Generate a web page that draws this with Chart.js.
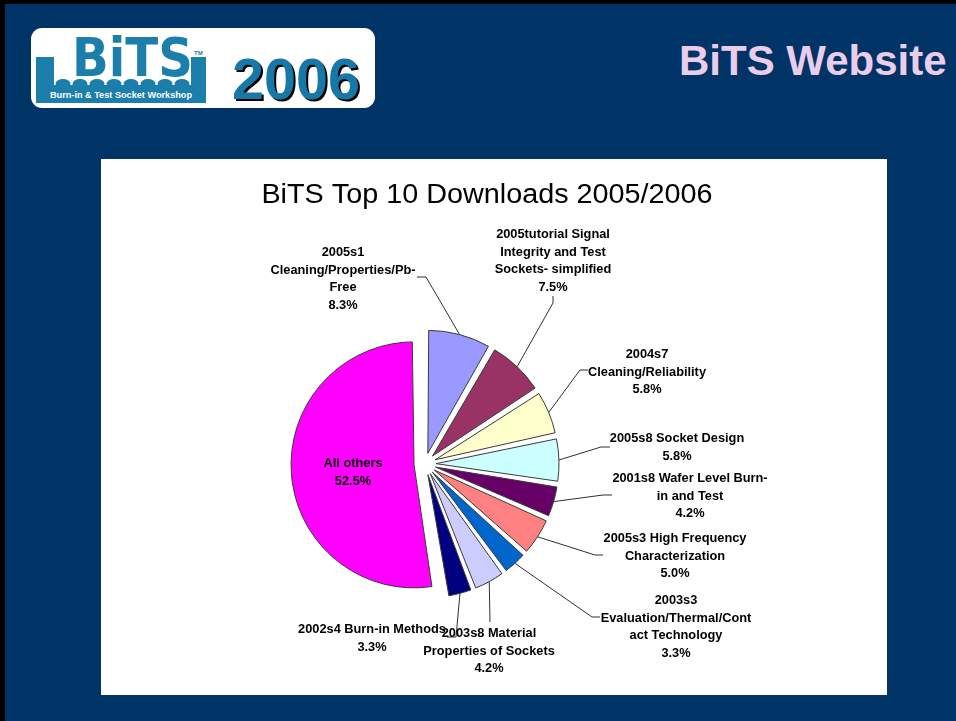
<!DOCTYPE html>
<html>
<head>
<meta charset="utf-8">
<script src="https://cdn.jsdelivr.net/npm/chart.js@4/dist/chart.umd.min.js"></script>
<style>
html,body{margin:0;padding:0;}
body{width:956px;height:721px;background:#003366;position:relative;overflow:hidden;font-family:"Liberation Sans",Arial,sans-serif;}
#topbar{position:absolute;left:0;top:0;width:956px;height:4px;background:#000;}
#leftbar{position:absolute;left:0;top:0;width:5px;height:721px;background:#000;}
#head{position:absolute;left:0;top:0;}
#box{position:absolute;left:101px;top:159px;width:786px;height:536px;background:#fff;}
#box canvas{display:block;}
</style>
</head>
<body>
<div id="topbar"></div>
<div id="leftbar"></div>
<svg id="head" width="956" height="130" xmlns="http://www.w3.org/2000/svg" font-family="Liberation Sans, Arial, sans-serif">
  <rect x="31" y="28" width="344" height="80" rx="11" ry="11" fill="#ffffff"/>
  <g fill="#1B7EAB">
    <rect x="36" y="57" width="18" height="46"/>
    <rect x="191" y="57" width="15" height="46"/>
    <rect x="36" y="85" width="170" height="18"/>
    <ellipse cx="63" cy="84" rx="7.5" ry="5"/>
    <ellipse cx="80" cy="84" rx="7.5" ry="5"/>
    <ellipse cx="97" cy="84" rx="7.5" ry="5"/>
    <ellipse cx="114" cy="84" rx="7.5" ry="5"/>
    <ellipse cx="131" cy="84" rx="7.5" ry="5"/>
    <ellipse cx="148" cy="84" rx="7.5" ry="5"/>
    <ellipse cx="165" cy="84" rx="7.5" ry="5"/>
    <ellipse cx="182" cy="84" rx="7.5" ry="5"/>
    <text x="72" y="76" font-family="DejaVu Sans, Liberation Sans, sans-serif" font-size="53" font-weight="bold" textLength="121" lengthAdjust="spacingAndGlyphs">BiTS</text>
    <text x="194" y="55" font-size="6" font-weight="bold">TM</text>
  </g>
  <text x="121" y="98" fill="#ffffff" font-size="8.5" font-weight="bold" text-anchor="middle" textLength="142" lengthAdjust="spacingAndGlyphs">Burn-in &amp; Test Socket Workshop</text>
  <text x="234" y="101" fill="#000000" font-size="58" font-weight="bold" textLength="128" lengthAdjust="spacingAndGlyphs">2006</text>
  <text x="232" y="99" fill="#1777A6" font-size="58" font-weight="bold" textLength="128" lengthAdjust="spacingAndGlyphs">2006</text>
  <text x="679" y="75" fill="#EBCDEA" font-size="42" font-weight="bold">BiTS Website</text>
</svg>
<div id="box"><canvas id="pie" width="786" height="536"></canvas></div>
<script>
// ---- data ----
const chartTitle = 'BiTS Top 10 Downloads 2005/2006';
const categories = [
  ['2005s1', 'Cleaning/Properties/Pb-', 'Free'],
  ['2005tutorial Signal', 'Integrity and Test', 'Sockets- simplified'],
  ['2004s7', 'Cleaning/Reliability'],
  ['2005s8 Socket Design'],
  ['2001s8 Wafer Level Burn-', 'in and Test'],
  ['2005s3 High Frequency', 'Characterization'],
  ['2003s3', 'Evaluation/Thermal/Cont', 'act Technology'],
  ['2003s8 Material', 'Properties of Sockets'],
  ['2002s4 Burn-in Methods'],
  ['All others']
];
const shares = [8.3, 7.5, 5.8, 5.8, 4.2, 5.0, 3.3, 4.2, 3.3, 52.5];

// ---- styles / layout ----
const sliceColors = ['#9999FF', '#993366', '#FFFFCC', '#CCFFFF', '#660066',
                     '#FF8080', '#0066CC', '#CCCCFF', '#000080', '#FF00FF'];
const PIE_R = 123;      // visual radius
const EXPLODE = 11;     // pixel shift of each slice
const TEXT_STRETCH = 1.066;
// label anchor: [centre x, first baseline y] in canvas pixels
const labelPos = [[242, 97], [452, 79], [546, 199], [576, 283], [589, 323],
                  [574, 383], [575, 445], [388, 478], [271, 474], [252, 308]];
// leader line bend points after the slice edge
const leaderBends = [
  [[325, 118], [316, 118]],
  [[452, 144], [452, 137]],
  [[479, 211], [487, 211]],
  [[500, 288], [509, 288]],
  [[502, 336], [511, 336]],
  [[494, 396], [502, 396]],
  [[491, 458], [499, 458]],
  [[389, 463]],
  [[355, 478], [346, 478]],
  null
];
const LINE_H = 17.5;

function stretchedText(ctx, t, x, y) {
  ctx.save();
  ctx.translate(x, y);
  ctx.scale(TEXT_STRETCH, 1);
  ctx.fillText(t, 0, 0);
  ctx.restore();
}

const labelPlugin = {
  id: 'pieLabels',
  afterDatasetUpdate(chart, args) {
    const shift = EXPLODE;
    args.meta.data.forEach(arc => {
      const fix = 1 - Math.sin(Math.min(Math.PI, arc.circumference || 0));
      arc.outerRadius = PIE_R - shift * fix;
    });
  },
  afterDraw(chart) {
    const ctx = chart.ctx;
    const meta = chart.getDatasetMeta(0);
    ctx.save();
    ctx.fillStyle = '#000';
    ctx.textAlign = 'center';
    ctx.textBaseline = 'alphabetic';
    ctx.font = '27px "Liberation Sans", Arial, sans-serif';
    stretchedText(ctx, chartTitle, 386, 44);

    // leader lines
    ctx.strokeStyle = '#303030';
    ctx.lineWidth = 1;
    meta.data.forEach((arc, i) => {
      const bends = leaderBends[i];
      if (!bends) return;
      const mid = (arc.startAngle + arc.endAngle) / 2;
      const ax = arc.x + Math.cos(mid) * (EXPLODE + PIE_R);
      const ay = arc.y + Math.sin(mid) * (EXPLODE + PIE_R);
      ctx.beginPath();
      ctx.moveTo(ax, ay);
      bends.forEach(p => ctx.lineTo(p[0], p[1]));
      ctx.stroke();
    });

    // labels
    ctx.font = 'bold 12px "Liberation Sans", Arial, sans-serif';
    ctx.fillStyle = '#000';
    categories.forEach((lines, i) => {
      const all = lines.concat([shares[i].toFixed(1) + '%']);
      const [x, y] = labelPos[i];
      all.forEach((t, k) => stretchedText(ctx, t, x, y + k * LINE_H));
    });
    ctx.restore();
  }
};

new Chart(document.getElementById('pie'), {
  type: 'pie',
  data: {
    labels: categories,
    datasets: [{
      data: shares,
      backgroundColor: sliceColors,
      borderColor: '#3a3a3a',
      borderWidth: 1,
      offset: EXPLODE * 4,
      radius: PIE_R
    }]
  },
  options: {
    responsive: false,
    animation: false,
    events: [],
    layout: { padding: { left: 0, right: 138, top: 74, bottom: 0 } },
    plugins: {
      legend: { display: false },
      tooltip: { enabled: false },
      title: { display: false }
    }
  },
  plugins: [labelPlugin]
});
</script>
</body>
</html>
